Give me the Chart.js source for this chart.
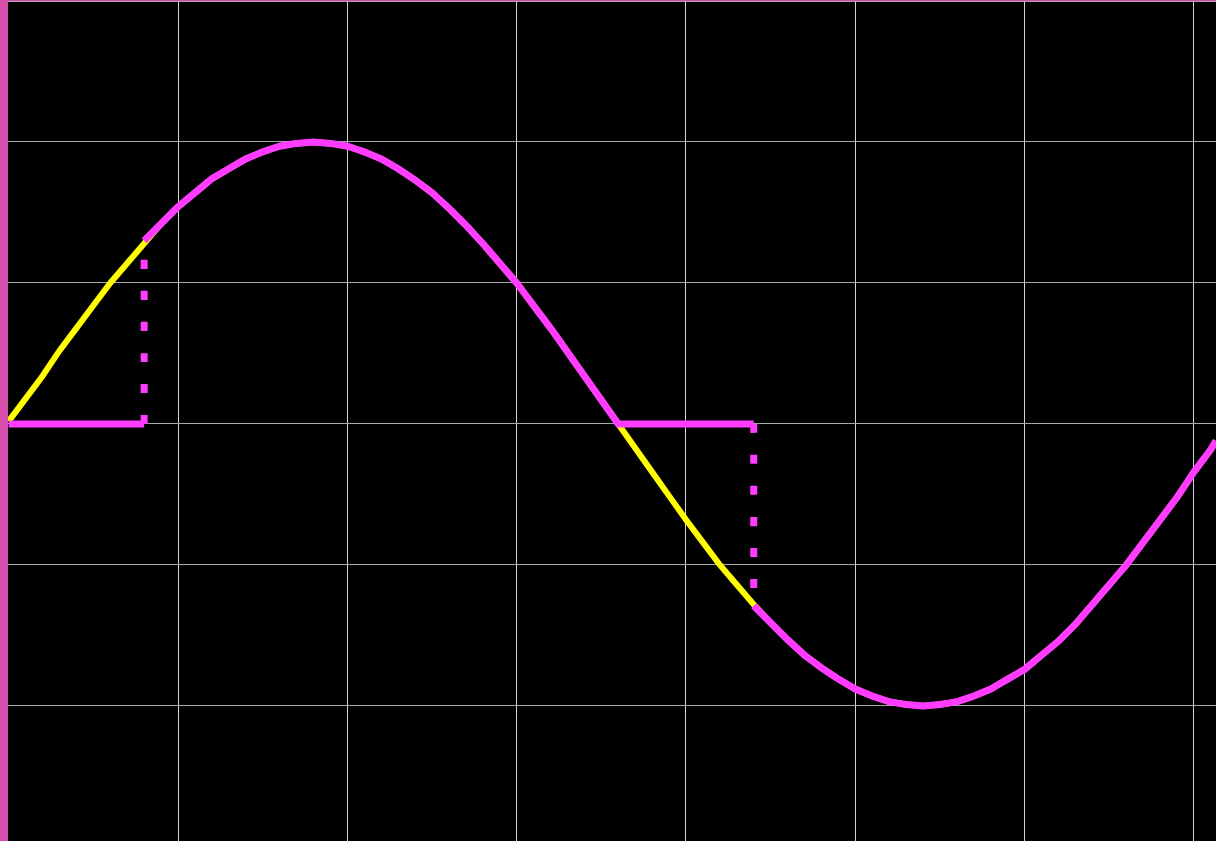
<!DOCTYPE html>
<html>
<head>
<meta charset="utf-8">
<title>Phase control waveform</title>
<script src="https://cdn.jsdelivr.net/npm/chart.js@4/dist/chart.umd.min.js"></script>
<style>
    html, body {
        margin: 0;
        padding: 0;
        background: #d64fac;
        width: 1216px;
        height: 841px;
        overflow: hidden;
    }
    #scope {
        position: absolute;
        left: 8px;
        top: 1px;
        background: #000000;
    }
</style>
</head>
<body>
<canvas id="scope" width="1208" height="840"></canvas>
<script>
// mains sine (yellow), read every 5 degrees
const angles = [0, 5, 10, 15, 20, 25, 30, 35, 40, 45, 50, 55, 60, 65, 70, 75, 80, 85, 90,
    95, 100, 105, 110, 115, 120, 125, 130, 135, 140, 145, 150, 155, 160, 165, 170, 175, 180,
    185, 190, 195, 200, 205, 210, 215, 220, 225, 230, 235, 240, 245, 250, 255, 260, 265, 270,
    275, 280, 285, 290, 295, 300, 305, 310, 315, 320, 325, 330, 335, 340, 345, 350, 355, 356.5]
const mainsVoltage = [0.01, 0.09, 0.17, 0.26, 0.34, 0.42, 0.5, 0.57, 0.64, 0.71, 0.77, 0.82, 0.87, 0.905, 0.94, 0.965, 0.985, 0.995, 1.0,
    0.995, 0.985, 0.965, 0.94, 0.905, 0.865, 0.82, 0.765, 0.705, 0.64, 0.57, 0.5, 0.42, 0.34, 0.255, 0.17, 0.085, 0.0,
    -0.085, -0.17, -0.255, -0.34, -0.42, -0.5, -0.57, -0.64, -0.705, -0.765, -0.82, -0.865, -0.905, -0.94, -0.965, -0.985, -0.995, -1.0,
    -0.995, -0.985, -0.965, -0.94, -0.905, -0.87, -0.82, -0.77, -0.71, -0.64, -0.57, -0.5, -0.42, -0.34, -0.26, -0.17, -0.09, -0.06]

// dimmer output (magenta), triac fires at 40 and 220 degrees
const dimmerAngles = [0, 40, 40, 45, 50, 55, 60, 65, 70, 75, 80, 85, 90,
    95, 100, 105, 110, 115, 120, 125, 130, 135, 140, 145, 150, 155, 160, 165, 170, 175, 180,
    220, 220, 225, 230, 235, 240, 245, 250, 255, 260, 265, 270,
    275, 280, 285, 290, 295, 300, 305, 310, 315, 320, 325, 330, 335, 340, 345, 350, 355, 356.5]
const dimmerOutput = [0, 0, 0.65, 0.71, 0.77, 0.82, 0.87, 0.905, 0.94, 0.965, 0.985, 0.995, 1.0,
    0.995, 0.985, 0.965, 0.94, 0.905, 0.865, 0.82, 0.765, 0.705, 0.64, 0.57, 0.5, 0.42, 0.34, 0.255, 0.17, 0.085, 0.0,
    0, -0.645, -0.705, -0.765, -0.82, -0.865, -0.905, -0.94, -0.965, -0.985, -0.995, -1.0,
    -0.995, -0.985, -0.965, -0.94, -0.905, -0.87, -0.82, -0.77, -0.71, -0.64, -0.57, -0.5, -0.42, -0.34, -0.26, -0.17, -0.09, -0.06]

const xTicks = [50, 100, 150, 200, 250, 300, 350]
const yTicks = [1.5, 1, 0.5, 0, -0.5, -1]

function toPoints(xs, ys) {
    return xs.map((x, i) => ({ x: x, y: ys[i] }))
}

function drawScope() {
    const ctx = document.getElementById("scope")

    new Chart(ctx.getContext("2d"), {
        type: 'line',
        data: {
            datasets: [
                {
                    label: "Dimmer output",
                    data: toPoints(dimmerAngles, dimmerOutput),
                    borderColor: "#ff3cff",
                    borderWidth: 7,
                    borderCapStyle: 'butt',
                    pointRadius: 0,
                    // tiny tension keeps chart.js off the fast path, which folds
                    // same-x points and breaks the dash on the vertical jumps
                    tension: 0.001,
                    order: 0,
                    segment: {
                        // vertical jumps (triac firing) are dotted
                        borderDash: c => c.p0.parsed.x === c.p1.parsed.x ? [9, 22] : undefined
                    }
                },
                {
                    label: "Mains",
                    data: toPoints(angles, mainsVoltage),
                    borderColor: "#ffff00",
                    borderWidth: 6,
                    pointRadius: 0,
                    tension: 0,
                    order: 1
                }
            ]
        },
        options: {
            responsive: false,
            animation: false,
            devicePixelRatio: 1,
            layout: { padding: 0 },
            plugins: {
                legend: { display: false },
                tooltip: { enabled: false }
            },
            scales: {
                x: {
                    type: 'linear',
                    min: -0.2,
                    max: 356.5,
                    afterBuildTicks: axis => { axis.ticks = xTicks.map(v => ({ value: v })) },
                    ticks: { display: false },
                    border: { display: false },
                    grid: { color: "#d4d4d4", lineWidth: 1, drawTicks: false }
                },
                y: {
                    type: 'linear',
                    min: -1.479,
                    max: 1.5,
                    afterBuildTicks: axis => { axis.ticks = yTicks.map(v => ({ value: v })) },
                    ticks: { display: false },
                    border: { display: false },
                    grid: { color: "#a9a9a9", lineWidth: 1, drawTicks: false }
                }
            }
        }
    })
}

document.addEventListener("DOMContentLoaded", drawScope)
</script>
</body>
</html>
